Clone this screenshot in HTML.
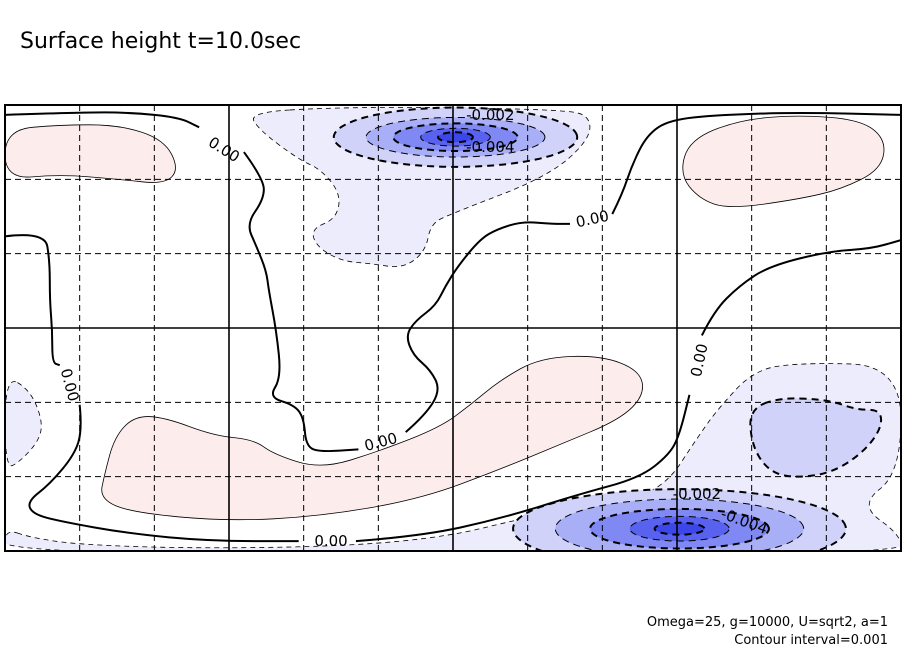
<!DOCTYPE html>
<html><head><meta charset="utf-8"><style>
html,body{margin:0;padding:0;background:#fff;width:904px;height:654px;overflow:hidden}
svg{display:block;font-family:"DejaVu Sans","Liberation Sans",sans-serif}
</style></head><body>
<svg id="chart" width="904" height="654" viewBox="0 0 904 654">
<text x="20" y="48" font-size="22" fill="#000">Surface height t=10.0sec</text>
<text x="888" y="626" font-size="13" text-anchor="end">Omega=25, g=10000, U=sqrt2, a=1</text>
<text x="888" y="644" font-size="13" text-anchor="end">Contour interval=0.001</text>
<defs><clipPath id="pc"><rect x="5" y="105" width="896" height="446"/></clipPath></defs>
<g id="plot" clip-path="url(#pc)"></g>
<g id="overlay"></g>
</svg>
<script>
// data in lon (0..360) / lat (-90..90)
const pinkRegions = [
 [[0,80],[22,82],[46,82],[64,76],[70,64],[64,58],[46,60],[22,62],[0,60]],
 [[275,76],[295,84],[319,86],[344,84],[354,76],[352,64],[336,56],[319,52],[291,48],[279,52],[271,62]],
 [[38,-69],[51,-74.5],[89,-78],[127,-76],[167,-69],[199,-57],[223,-47],[247,-37],[257,-27],[255,-17],[239,-11],[215,-12],[199,-21],[187,-31],[175,-40],[151,-49.5],[127,-57],[108,-51],[100,-45],[84,-43.5],[64,-36],[52,-35.5],[44,-44],[40,-59]]
];
const lightBlueRegions = [
 [[98,87],[131,89],[179,89],[223,88],[235,86],[235,76],[218,61],[179,46],[171,42],[169,31],[160,24],[147,26],[135,27],[125,33],[123,40],[133,44],[135,54],[127,64],[118,68],[102,80]],
 [[0,-81],[10,-84.5],[30,-87.5],[78,-89],[139,-88],[179,-84],[207,-77],[239,-71],[264,-66],[279,-43],[287,-32],[301,-17],[319,-14],[360,-15],[360,-58.5],[343,-71.5],[360,-83.5],[360,-92],[0,-92]],
 [[0,-19],[10,-25],[15,-37],[14,-45],[6,-54],[0,-57]]
];
const midBlueRegions = [
 [[299,-33],[311,-28],[331,-29],[342,-33],[352,-33],[352,-41],[344,-51],[331,-59],[315,-60.5],[306,-57],[300,-47]]
];
const topCenter = [181,77];
const topRadii = [[49,12],[36,8],[25,5.6],[14,3.6],[7,2]];
const bottomCenter = [271,-81];
const bottomRadii = [[67,16],[50,12],[36,8],[20,5],[10,2.4]];
const levelFills = ['#d0d2fa','#a9aff7','#7f88f3','#5862ef','#3c47ea'];
const zeroContours = [
 [[0,86],[30,87],[50,87],[70,85],[78,81]],
 [[96,71],[104,60],[104,52],[97,42],[101,33],[105,23],[106,15],[109,-1],[111,-20],[106,-28],[116,-31],[120,-36],[121,-48],[127,-50],[142,-49]],
 [[161,-42],[169,-35],[175,-25],[171,-17],[164,-11],[161,-3],[165,3],[173,9],[177,17],[182,25],[191,36],[198,40],[208,43],[220,42],[227,42]],
 [[244,46],[248,54],[252,66],[258,78],[267,84],[287,86],[319,87],[360,86]],
 [[0,37],[16,39],[18,27],[18,11],[19,-1],[19,-14],[22,-15]],
 [[30,-31],[31,-41],[28,-51],[18,-63],[9,-70],[11,-75],[22,-78],[50,-83],[82,-86],[118,-86]],
 [[141,-86],[167,-84],[199,-77],[231,-67],[255,-60.5],[267,-51],[271,-43],[275,-27]],
 [[280,-3],[285,7],[295,17],[307,25],[331,31],[348,32],[360,35.5]]
];
const labelTexts = ['0.00','0.00','0.00','0.00','0.00','0.00','-0.002','-0.004','-0.002','-0.004'];
const labelPos = [[88,72],[236,44],[151,-46],[131,-86],[26,-23],[279,-13],[195,86],[195,73],[278,-67],[297,-78]];
const labelRot = [32,-12,-15,0,75,-78,0,0,0,20];
const lonTicks = [0,30,60,90,120,150,180,210,240,270,300,330,360];
const latTicks = [90,60,30,0,-30,-60,-90];

const X0=5,X1=901,Y0=105,Y1=551;
const xs = lon => X0 + lon/360*(X1-X0);
const ys = lat => Y0 + (90-lat)/180*(Y1-Y0);
const NS='http://www.w3.org/2000/svg';
const plot=document.getElementById('plot'), ov=document.getElementById('overlay');
function mk(tag,attrs,parent){const e=document.createElementNS(NS,tag);for(const k in attrs)e.setAttribute(k,attrs[k]);parent.appendChild(e);return e;}
function smooth(pts,closed){
 const p=pts.map(q=>[xs(q[0]),ys(q[1])]);
 if(p.length<3) return 'M'+p.map(q=>q.join(',')).join('L');
 let d='';
 if(closed){
  const n=p.length; const m=i=>[(p[i%n][0]+p[(i+1)%n][0])/2,(p[i%n][1]+p[(i+1)%n][1])/2];
  let s=m(0); d='M'+s[0]+','+s[1];
  for(let i=1;i<=n;i++){const c=p[i%n],e=m(i);d+='Q'+c[0]+','+c[1]+' '+e[0]+','+e[1];}
  return d+'Z';
 }
 d='M'+p[0][0]+','+p[0][1];
 for(let i=1;i<p.length-1;i++){const e=[(p[i][0]+p[i+1][0])/2,(p[i][1]+p[i+1][1])/2];d+='Q'+p[i][0]+','+p[i][1]+' '+e[0]+','+e[1];}
 const l=p[p.length-1]; return d+'L'+l[0]+','+l[1];
}
function ellipsePts(c,r){const a=[];for(let i=0;i<48;i++){const t=i/48*2*Math.PI;a.push([c[0]+r[0]*Math.cos(t),c[1]+r[1]*Math.sin(t)]);}return a;}

lightBlueRegions.forEach(r=>{
 const e=mk('path',{d:smooth(r,true),fill:'#ececfc',stroke:'#000','stroke-width':0.8,'stroke-dasharray':'5,4'},plot);
 
 
});
pinkRegions.forEach(r=>{
 const e=mk('path',{d:smooth(r,true),fill:'#fdecec',stroke:'#000','stroke-width':0.8},plot);
 
 
});
midBlueRegions.forEach(r=>{
 const e=mk('path',{d:smooth(r,true),fill:'#d0d2fa',stroke:'#000','stroke-width':2,'stroke-dasharray':'7,5'},plot);
 
 
});
[[topCenter,topRadii],[bottomCenter,bottomRadii]].forEach(([c,rs])=>{
 rs.forEach((r,i)=>{
  const e=mk('path',{d:smooth(ellipsePts(c,r),true),fill:levelFills[i],stroke:'#000','stroke-width':(i%2===0)?2:1,'stroke-dasharray':'7,5'},plot);
  
  
 });
});
lonTicks.forEach((t,i)=>{
 const solid=(i%3===0);
 const e=mk('line',{x1:xs(t),x2:xs(t),y1:Y0,y2:Y1,stroke:'#000','stroke-width':solid?1.6:1,'stroke-dasharray':solid?'none':'6,4'},plot);
 
 
});
latTicks.forEach((t,i)=>{
 const solid=(i%3===0);
 const e=mk('line',{x1:X0,x2:X1,y1:ys(t),y2:ys(t),stroke:'#000','stroke-width':solid?1.6:1,'stroke-dasharray':solid?'none':'6,4'},plot);
 
 
});
zeroContours.forEach(c=>{
 const e=mk('path',{d:smooth(c,false),fill:'none',stroke:'#000','stroke-width':2},plot);
 
 
});
labelTexts.forEach((t,i)=>{
 const x=xs(labelPos[i][0]), y=ys(labelPos[i][1]);
 const e=mk('text',{x:x,y:y,'font-size':15,'text-anchor':'middle','dominant-baseline':'central',transform:'rotate('+labelRot[i]+' '+x+' '+y+')'},plot);
 e.textContent=t;
 
 
});
const fr=mk('rect',{x:X0,y:Y0,width:X1-X0,height:Y1-Y0,fill:'none',stroke:'#000','stroke-width':2},ov);


</script>
</body></html>
